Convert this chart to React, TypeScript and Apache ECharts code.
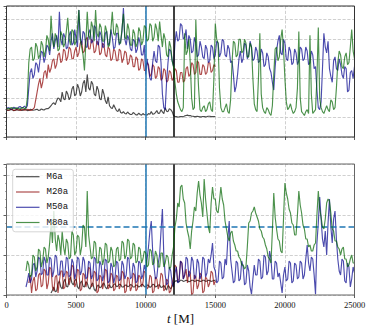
import React, { useEffect, useRef } from "react";
import * as echarts from "echarts";

// Sampling step of the time series (in M); every row of 10 values spans 1000 M.
const STEP = 100;
const X_MIN = 0;
const X_MAX = 25000;
const X_INTERVAL = 5000;

const seriesNames = ["M6a", "M20a", "M50a", "M80a"];
const seriesColors = ["#000000", "#8b0000", "#00008b", "#006400"];

// Reference lines
const vLineBlue = 10000;
const vLineBlack = 12000;
const hLineBottom = 1.7; // log10 value

// Axis ranges (log10 units)
const topYMax = 6.7;
const bottomYMax = 3.275;

// ---------- Top panel (log10 values), t = 0, 100, 200, ... ----------
const m6aTop = [
  1.38, 1.36, 1.37, 1.41, 1.4, 1.35, 1.36, 1.4, 1.38, 1.37,
  1.41, 1.36, 1.37, 1.42, 1.39, 1.35, 1.36, 1.41, 1.4, 1.37,
  1.38, 1.4, 1.42, 1.36, 1.37, 1.43, 1.4, 1.38, 1.43, 1.45,
  1.45, 1.52, 1.6, 1.7, 1.75, 1.65, 1.85, 2.0, 1.95, 1.8,
  2.3, 1.95, 1.9, 2.35, 2.2, 1.9, 2.05, 2.45, 2.6, 2.1,
  2.2, 2.7, 2.5, 2.1, 2.3, 2.75, 2.9, 2.3, 3.2, 2.5,
  2.4, 2.85, 2.7, 2.2, 2.1, 2.6, 2.4, 1.95, 1.9, 2.45,
  2.2, 1.85, 1.7, 2.05, 1.6, 1.5, 1.45, 1.65, 1.5, 1.35,
  1.3, 1.45, 1.25, 1.22, 1.3, 1.2, 1.18, 1.28, 1.2, 1.15,
  1.15, 1.25, 1.2, 1.13, 1.13, 1.22, 1.15, 1.12, 1.2, 1.14,
  1.14, 1.12, 1.2, 1.16, 1.3, 1.17, 1.18, 1.25, 1.35, 1.2,
  1.22, 1.4, 1.28, 1.2, 1.5, 1.32, 1.3, 1.45, 1.4, 1.3,
  1.1, 1.05, 1.04, 1.02, 1.03, 1.05, 1.05, 1.03, 1.08, 1.1,
  1.12, 1.09, 1.1, 1.06, 1.06, 1.04, 1.04, 1.06, 1.05, 1.03,
  1.03, 1.05, 1.05, 1.03, 1.04, 1.06, 1.06, 1.04, 1.04, 1.05,
  1.05,
];

const m20aTop = [
  1.4, 1.37, 1.38, 1.41, 1.42, 1.36, 1.37, 1.4, 1.4, 1.38,
  1.36, 1.4, 1.41, 1.37, 1.38, 1.41, 1.4, 1.36, 1.37, 1.42,
  1.5, 1.9, 2.3, 2.7, 3.0, 2.5, 2.8, 3.3, 3.4, 3.0,
  3.7, 3.3, 3.5, 3.9, 4.0, 3.5, 3.7, 4.2, 4.3, 3.8,
  3.9, 4.5, 4.4, 3.9, 4.1, 4.6, 4.5, 4.0, 4.0, 4.4,
  4.6, 4.1, 4.3, 4.8, 4.9, 4.3, 4.4, 5.0, 5.1, 4.5,
  4.5, 5.0, 4.9, 4.3, 4.4, 4.9, 4.8, 4.2, 4.3, 4.8,
  4.7, 4.2, 4.1, 4.6, 4.5, 3.9, 4.0, 4.5, 4.4, 3.9,
  3.9, 4.5, 4.4, 3.8, 4.0, 4.4, 4.3, 3.7, 3.8, 4.2,
  4.1, 3.6, 3.6, 4.1, 4.0, 3.4, 3.5, 4.0, 3.9, 3.4,
  3.4, 3.8, 3.7, 3.1, 3.2, 3.7, 3.6, 3.0, 3.1, 3.6,
  3.5, 2.9, 3.0, 3.5, 3.4, 2.8, 2.9, 3.4, 3.3, 2.9,
  3.0, 3.5, 3.4, 2.8, 2.8, 3.3, 3.3, 2.8, 2.9, 3.5,
  3.6, 3.1, 3.2, 3.8, 3.7, 3.2, 3.3, 3.9, 3.8, 3.2,
  3.2, 3.7, 3.6, 3.2, 3.3, 3.8, 3.8, 3.3, 3.4, 3.7,
  3.6,
];

const m50aTop = [
  1.45, 1.5, 1.48, 1.43, 1.44, 1.52, 1.5, 1.45, 1.46, 1.54,
  1.55, 1.48, 1.52, 1.58, 1.47, 1.6, 2.5, 3.3, 3.5, 3.0,
  3.2, 3.8, 3.7, 3.3, 3.9, 4.4, 4.3, 3.8, 4.1, 4.7,
  4.6, 4.2, 4.9, 5.3, 4.5, 4.9, 5.2, 4.6, 6.4, 5.0,
  4.7, 5.3, 5.1, 4.5, 4.6, 5.2, 5.4, 4.7, 4.8, 5.5,
  5.0, 4.6, 6.5, 5.1, 4.7, 5.4, 5.3, 4.6, 4.6, 5.3,
  5.5, 4.8, 4.9, 5.7, 5.6, 4.8, 4.7, 5.4, 5.2, 4.6,
  4.6, 5.3, 5.4, 4.7, 4.8, 5.5, 5.1, 4.5, 4.6, 5.3,
  5.3, 4.7, 4.9, 5.4, 6.6, 5.0, 4.7, 5.2, 5.0, 4.5,
  4.4, 5.0, 4.9, 4.3, 4.5, 5.1, 4.8, 4.2, 4.2, 4.7,
  3.2, 4.0, 3.5, 3.0, 2.9, 3.8, 4.4, 3.9, 3.8, 4.7,
  4.6, 3.8, 2.2, 1.5, 1.4, 2.8, 3.8, 4.5, 4.4, 3.9,
  3.6, 4.8, 5.4, 4.9, 5.0, 5.8, 5.7, 5.0, 5.1, 5.5,
  4.5, 5.2, 5.0, 4.3, 4.4, 5.1, 4.8, 4.1, 4.2, 4.9,
  4.6, 4.1, 4.0, 4.7, 4.5, 3.8, 3.9, 4.7, 4.6, 4.0,
  4.2, 4.9, 4.8, 4.1, 4.3, 5.0, 4.9, 4.2, 4.1, 4.7,
  4.5, 3.8, 3.9, 3.2, 2.3, 2.6, 3.2, 4.0, 4.4, 3.8,
  4.0, 4.8, 4.7, 4.0, 4.2, 4.9, 4.6, 3.9, 4.0, 4.6,
  4.4, 3.8, 3.9, 4.5, 4.3, 3.6, 3.7, 4.3, 4.1, 3.5,
  3.3, 2.8, 2.4, 3.6, 4.4, 4.9, 5.2, 4.3, 4.2, 5.0,
  4.8, 4.0, 3.9, 4.6, 4.4, 3.7, 3.8, 4.5, 4.3, 3.7,
  3.9, 4.6, 4.5, 3.9, 4.0, 4.6, 4.4, 3.7, 3.8, 4.4,
  4.2, 3.5, 3.6, 2.4, 1.5, 1.4, 1.8, 3.5, 5.3, 4.6,
  4.3, 4.9, 3.5, 3.1, 2.8, 3.9, 4.1, 3.5, 3.4, 4.0,
  3.7, 3.2, 3.0, 3.6, 3.5, 2.3, 2.4, 3.3, 3.4, 3.0,
  3.6,
];

const m80aTop = [
  1.47, 1.44, 1.45, 1.49, 1.5, 1.45, 1.46, 1.49, 1.48, 1.44,
  1.44, 1.49, 1.5, 1.45, 1.47, 2.0, 3.8, 4.5, 4.6, 3.9,
  4.0, 4.8, 4.6, 4.0, 4.2, 4.9, 4.7, 4.1, 4.4, 5.2,
  5.0, 4.4, 6.2, 5.0, 4.6, 5.3, 5.1, 4.4, 4.5, 5.4,
  5.2, 4.6, 4.8, 5.4, 6.1, 5.0, 4.7, 5.5, 5.4, 4.7,
  4.9, 5.6, 6.5, 5.0, 4.6, 4.2, 3.4, 4.8, 6.4, 5.2,
  5.0, 5.9, 5.6, 4.9, 6.5, 5.3, 5.1, 5.8, 5.6, 4.9,
  4.9, 5.7, 5.4, 4.6, 4.7, 5.5, 6.4, 5.3, 5.2, 5.8,
  5.6, 4.8, 4.8, 5.6, 6.3, 5.1, 5.0, 5.8, 5.5, 4.7,
  4.7, 5.5, 5.3, 4.6, 4.8, 5.6, 5.4, 4.7, 4.9, 5.7,
  5.6, 4.9, 5.0, 5.8, 5.7, 4.9, 5.1, 5.8, 5.5, 4.9,
  5.9, 5.2, 4.6, 5.3, 5.0, 4.2, 4.1, 4.9, 4.6, 3.9,
  3.6, 2.8, 2.2, 1.8, 1.6, 1.4, 1.3, 1.5, 5.3, 4.2,
  4.4, 5.0, 3.8, 2.0, 1.4, 1.5, 6.0, 4.0, 2.5, 1.4,
  1.3, 1.5, 1.6, 1.3, 1.4, 1.7, 1.8, 1.4, 1.3, 3.0,
  5.8, 5.0, 4.8, 2.5, 1.5, 1.3, 1.3, 1.5, 1.7, 1.3,
  1.2, 1.9, 3.8, 4.9, 4.8, 4.1, 4.2, 5.0, 5.0, 4.3,
  4.4, 5.0, 4.8, 4.1, 4.1, 4.8, 4.6, 3.0, 1.7, 1.4,
  1.3, 3.0, 5.3, 2.2, 1.5, 1.3, 1.2, 1.5, 1.4, 1.2,
  1.1, 1.6, 3.2, 4.5, 4.6, 3.9, 4.1, 5.0, 5.5, 4.5,
  3.0, 1.8, 1.4, 1.5, 1.7, 1.4, 1.2, 1.3, 1.5, 2.5,
  5.4, 2.0, 1.3, 1.2, 1.1, 1.3, 1.4, 1.2, 5.2, 2.2,
  1.2, 1.3, 1.4, 3.0, 5.6, 2.0, 1.5, 1.3, 1.2, 1.4,
  1.6, 1.4, 1.3, 1.9, 1.8, 1.4, 1.5, 2.5, 3.8, 4.4,
  4.2, 3.6, 3.5, 4.1, 4.3, 3.7, 3.8, 4.6, 5.5, 4.4,
  4.0,
];

// ---------- Bottom panel (log10 values), t = 0, 100, 200, ... ----------
const m6aBottom = [
  null, null, null, null, null, null, null, null, null, null,
  null, null, null, null, null, null, null, null, null, null,
  null, null, null, null, null, null, null, null, null, null,
  null, null, 0.05, 0.12, 0.2, 0.08, 0.1, 0.28, 0.35, 0.2,
  0.15, 0.32, 0.4, 0.22, 0.2, 0.38, 0.45, 0.3, 0.25, 0.36,
  0.4, 0.2, 0.15, 0.3, 0.35, 0.22, 0.2, 0.33, 0.3, 0.18,
  0.15, 0.26, 0.3, 0.14, 0.1, 0.22, 0.25, 0.18, 0.2, 0.27,
  0.3, 0.2, 0.15, 0.24, 0.25, 0.18, 0.2, 0.26, 0.28, 0.21,
  0.22, 0.27, 0.26, 0.2, 0.2, 0.24, 0.25, 0.21, 0.22, 0.26,
  0.25, 0.2, 0.2, 0.25, 0.24, 0.2, 0.22, 0.26, 0.26, 0.21,
  0.2, 0.25, 0.24, 0.19, 0.21, 0.27, 0.26, 0.2, 0.22, 0.25,
  0.25, 0.19, 0.2, 0.24, 0.18, 0.12, 0.24, 0.2, 0.15, 0.22,
  0.3, 0.34, 0.36, 0.33, 0.33, 0.37, 0.37, 0.34, 0.35, 0.37,
  0.36, 0.33, 0.34, 0.37, 0.37, 0.34, 0.35, 0.37, 0.36, 0.34,
  0.34, 0.37, 0.37, 0.34, 0.35, 0.37, 0.36, 0.34, 0.35, 0.37,
  0.36,
];

const m20aBottom = [
  null, null, null, null, null, null, null, null, null, null,
  null, null, null, null, null, null, 0.3, 0.5, 0.05, 0.35,
  0.45, 0.1, 0.15, 0.5, 0.55, 0.2, 0.25, 0.65, 0.6, 0.15,
  0.3, 0.7, 0.65, 0.2, 0.1, 0.45, 0.5, 0.05, 0.35, 0.6,
  0.6, 0.15, 0.2, 0.6, 0.55, 0.25, 0.4, 0.75, 0.7, 0.2,
  0.3, 0.65, 0.6, 0.1, 0.15, 0.55, 0.5, 0.2, 0.35, 0.7,
  0.65, 0.2, 0.25, 0.6, 0.55, 0.05, 0.1, 0.5, 0.45, 0.15,
  0.3, 0.65, 0.6, 0.15, 0.2, 0.55, 0.5, 0.1, 0.15, 0.5,
  0.45, 0.15, 0.25, 0.6, 0.55, 0.05, 0.1, 0.45, 0.4, 0.1,
  0.2, 0.55, 0.5, 0.1, 0.15, 0.5, 0.45, 0.2, 0.3, 0.6,
  0.55, 0.15, 0.2, 0.5, 0.45, 0.05, 0.1, 0.45, 0.4, 0.15,
  0.25, 0.55, 0.5, 0.1, 0.15, 0.4, 0.35, 0.05, 0.1, 0.3,
  0.45, 0.75, 0.7, 0.35, 0.4, 0.85, 0.8, 0.4, 0.5, 0.65,
  0.3, 0.6, 0.55, 0.0, 0.05, 0.5, 0.45, 0.15, 0.25, 0.55,
  0.5, 0.05, 0.1, 0.45, 0.4, 0.2, 0.3, 0.6, 0.55, 0.25,
  0.35,
];

const m50aBottom = [
  null, null, null, null, null, null, null, null, null, null,
  null, null, null, null, 0.2, 0.35, 0.55, 0.3, 0.4, 0.75,
  0.8, 0.45, 0.6, 0.95, 0.9, 0.5, 0.55, 0.95, 0.85, 0.5,
  0.5, 0.95, 0.9, 0.45, 0.6, 1.0, 0.95, 0.5, 0.5, 0.85,
  0.85, 0.45, 0.55, 0.95, 0.9, 0.45, 0.5, 0.9, 0.8, 0.4,
  0.55, 0.95, 0.9, 0.5, 0.6, 0.95, 0.85, 0.4, 0.45, 0.85,
  0.8, 0.4, 0.5, 0.95, 0.9, 0.35, 0.4, 0.85, 0.75, 0.35,
  0.5, 0.9, 0.85, 0.3, 0.35, 0.8, 0.7, 0.3, 0.45, 0.85,
  0.8, 0.35, 0.4, 0.85, 0.75, 0.4, 0.5, 0.95, 0.9, 0.4,
  0.45, 0.8, 0.7, 0.3, 0.35, 0.85, 0.8, 0.4, 0.5, 0.75,
  0.6, 0.9, 1.2, 1.6, 1.85, 1.1, 0.7, 0.4, 0.45, 0.8,
  1.0, 1.6, 2.15, 1.0, 0.5, 0.25, 0.3, 0.7, 0.6, 0.3,
  0.2, 0.55, 0.7, 0.3, 0.35, 0.85, 0.8, 0.4, 0.5, 0.95,
  0.9, 0.45, 0.55, 0.95, 0.85, 0.4, 0.45, 0.9, 0.8, 0.4,
  0.5, 0.95, 0.9, 0.45, 0.55, 0.9, 0.8, 1.0, 1.3, 0.7,
  0.6, 0.3, 0.35, 0.85, 0.8, 0.4, 0.45, 0.9, 0.75, 1.4,
  1.85, 0.9, 0.6, 0.3, 0.35, 0.85, 0.8, 0.35, 0.4, 0.85,
  0.7, 0.25, 0.3, 0.75, 0.6, 0.2, 0.02, 0.4, 0.75, 0.5,
  0.5, 0.9, 0.85, 0.4, 0.45, 1.0, 0.95, 0.5, 0.6, 1.1,
  0.9, 0.4, 0.4, 0.85, 0.8, 0.45, 0.55, 0.3, 0.05, 0.5,
  0.7, 0.35, 0.4, 0.85, 0.8, 0.3, 0.35, 0.8, 0.75, 0.4,
  0.45, 0.85, 0.8, 0.4, 0.5, 0.9, 1.25, 0.8, 0.6, 0.95,
  0.9, 0.5, 0.02, 1.3, 1.8, 2.45, 1.9, 1.4, 1.2, 1.6,
  1.0, 1.8, 2.4, 1.7, 1.3, 1.9, 2.1, 1.4, 0.9, 0.6,
  0.5, 0.9, 0.85, 0.35, 0.3, 0.8, 0.7, 0.2, 0.4, 0.7,
  0.55,
];

const m80aBottom = [
  null, null, null, null, null, null, null, null, null, null,
  null, null, null, null, 0.6, 0.85, 0.75, 0.45, 0.5, 1.0,
  0.95, 0.6, 0.7, 1.15, 1.1, 0.7, 0.85, 1.2, 1.15, 0.8,
  0.95, 1.3, 1.8, 1.3, 2.1, 1.4, 1.1, 1.5, 1.35, 1.0,
  1.6, 1.2, 1.0, 1.4, 1.3, 0.9, 0.95, 1.6, 1.5, 1.0,
  1.1, 1.5, 1.45, 1.0, 1.2, 1.75, 1.7, 1.2, 2.6, 1.5,
  1.2, 0.9, 0.95, 1.35, 1.3, 0.8, 0.8, 1.2, 1.15, 0.75,
  0.9, 1.3, 1.25, 0.8, 0.85, 1.2, 1.1, 0.7, 0.75, 1.15,
  1.2, 0.85, 0.9, 1.35, 1.3, 0.9, 1.0, 1.4, 1.35, 0.9,
  0.95, 1.3, 1.25, 0.8, 0.85, 1.2, 1.15, 0.8, 0.9, 1.1,
  1.05, 0.7, 0.75, 1.15, 1.1, 0.75, 0.8, 1.1, 1.0, 0.7,
  0.7, 1.05, 1.05, 0.7, 0.8, 1.0, 0.95, 0.65, 0.7, 1.0,
  1.2, 1.7, 1.9, 2.3, 2.2, 2.7, 2.75, 2.4, 2.3, 1.8,
  1.6, 1.45, 1.15, 1.6, 1.85, 2.2, 2.1, 2.55, 2.85, 2.5,
  2.3, 1.95, 2.9, 2.4, 2.05, 1.7, 1.55, 2.3, 2.7, 2.4,
  2.4, 2.1, 2.05, 2.35, 2.7, 2.4, 2.25, 1.85, 1.65, 1.45,
  1.35, 1.55, 1.6, 1.35, 1.25, 1.1, 1.1, 0.95, 0.9, 0.75,
  0.75, 0.65, 0.7, 1.2, 1.8, 1.85, 2.05, 2.1, 2.2, 2.05,
  1.95, 1.85, 1.65, 1.6, 1.45, 1.4, 1.25, 1.15, 0.95, 0.9,
  0.8, 1.6, 2.55, 1.95, 1.65, 1.4, 1.35, 1.1, 1.05, 1.9,
  2.8, 2.55, 2.4, 2.15, 2.05, 1.8, 1.75, 1.5, 1.5, 2.0,
  2.6, 2.25, 2.05, 1.75, 1.65, 1.4, 1.4, 1.2, 1.25, 1.1,
  1.1, 1.25, 1.3, 2.0, 2.6, 2.15, 1.95, 1.7, 1.65, 1.9,
  2.3, 2.4, 2.35, 2.05, 1.65, 1.6, 1.35, 1.35, 1.2, 1.15,
  1.0, 1.15, 1.2, 0.9, 0.9, 0.7, 0.75, 0.9, 1.0, 0.8,
  0.8,
];

const topData = [m6aTop, m20aTop, m50aTop, m80aTop];
const bottomData = [m6aBottom, m20aBottom, m50aBottom, m80aBottom];

const toPairs = (arr: (number | null)[]) => arr.map((v, i) => [i * STEP, v]);

// Layout
const GL = 6.5;
const GW = 348;
const TOP_T = 6;
const TOP_H = 131;
const BOT_T = 164;
const BOT_H = 131;

const SERIF = "'Liberation Serif', 'DejaVu Serif', serif";
const MONO = "'Liberation Mono', 'DejaVu Sans Mono', monospace";
const LINE_W = 1.15;

function buildOption(): any {
  const gridLine = { type: "dashed", color: "#c4c4c4", width: 0.8 };
  const xAxisBase = (gridIndex: number, showLabels: boolean) => ({
    type: "value",
    gridIndex,
    min: X_MIN,
    max: X_MAX,
    interval: X_INTERVAL,
    axisLine: { show: false },
    axisTick: { show: true, length: 3, lineStyle: { color: "#333", width: 0.8 } },
    axisLabel: {
      show: showLabels,
      margin: 5,
      fontFamily: SERIF,
      fontSize: 8.5,
      color: "#111",
      formatter: (v: number) => String(v),
    },
    splitLine: { show: true, lineStyle: gridLine },
  });
  const yAxisBase = (gridIndex: number, max: number) => ({
    type: "value",
    gridIndex,
    min: 0,
    max,
    interval: 1,
    axisLine: { show: false },
    axisTick: { show: true, length: 3, lineStyle: { color: "#333", width: 0.8 } },
    minorTick: { show: true, splitNumber: 5, length: 1.5, lineStyle: { color: "#555", width: 0.5 } },
    axisLabel: { show: false },
    splitLine: { show: true, lineStyle: gridLine },
  });

  const series: any[] = [];
  seriesNames.forEach((name, k) => {
    series.push({
      name,
      type: "line",
      xAxisIndex: 0,
      yAxisIndex: 0,
      data: toPairs(topData[k]),
      showSymbol: false,
      symbol: "none",
      lineStyle: { color: seriesColors[k], width: LINE_W, opacity: 0.7 },
      itemStyle: { color: seriesColors[k] },
      z: 2 + k,
    });
  });
  seriesNames.forEach((name, k) => {
    series.push({
      name,
      type: "line",
      xAxisIndex: 1,
      yAxisIndex: 1,
      data: toPairs(bottomData[k]),
      showSymbol: false,
      symbol: "none",
      connectNulls: false,
      lineStyle: { color: seriesColors[k], width: LINE_W, opacity: 0.7 },
      itemStyle: { color: seriesColors[k] },
      z: 2 + k,
    });
  });

  const vLines = [
    { xAxis: vLineBlue, lineStyle: { color: "#1f77b4", width: 1.5, type: "solid" } },
    { xAxis: vLineBlack, lineStyle: { color: "#000000", width: 1.5, type: "solid" } },
  ];
  series.push({
    name: "refTop",
    type: "line",
    xAxisIndex: 0,
    yAxisIndex: 0,
    data: [],
    z: 20,
    markLine: { silent: true, symbol: "none", label: { show: false }, animation: false, data: vLines },
  });
  series.push({
    name: "refBottom",
    type: "line",
    xAxisIndex: 1,
    yAxisIndex: 1,
    data: [],
    z: 20,
    markLine: {
      silent: true,
      symbol: "none",
      label: { show: false },
      animation: false,
      data: [
        ...vLines,
        { yAxis: hLineBottom, lineStyle: { color: "#1f77b4", width: 1.5, type: [6, 3] } },
      ],
    },
  });

  const rowsY = [176.7, 192, 207.3, 222.5];
  const legendChildren: any[] = [
    {
      type: "rect",
      shape: { x: 12.7, y: 169.3, width: 60.6, height: 62.5, r: 2.5 },
      style: { fill: "rgba(255,255,255,0.8)", stroke: "#cccccc", lineWidth: 0.8 },
      z: 100,
    },
  ];
  seriesNames.forEach((name, k) => {
    legendChildren.push({
      type: "line",
      shape: { x1: 16, y1: rowsY[k], x2: 39.5, y2: rowsY[k] },
      style: { stroke: seriesColors[k], lineWidth: 1.2, opacity: 0.7 },
      z: 101,
    });
    legendChildren.push({
      type: "text",
      x: 46.5,
      y: rowsY[k],
      style: {
        text: name,
        fill: "#111",
        font: `9px ${MONO}`,
        textVerticalAlign: "middle",
        verticalAlign: "middle",
      },
      z: 101,
    });
  });

  return {
    animation: false,
    backgroundColor: "#ffffff",
    grid: [
      { left: GL, top: TOP_T, width: GW, height: TOP_H, containLabel: false },
      { left: GL, top: BOT_T, width: GW, height: BOT_H, containLabel: false },
    ],
    xAxis: [
      xAxisBase(0, false),
      {
        ...xAxisBase(1, true),
        name: "{it|t} [M]",
        nameLocation: "middle",
        nameGap: 17,
        nameTextStyle: {
          fontFamily: SERIF,
          fontSize: 13,
          color: "#111",
          rich: { it: { fontFamily: SERIF, fontSize: 13, fontStyle: "italic", color: "#111" } },
        },
      },
    ],
    yAxis: [yAxisBase(0, topYMax), yAxisBase(1, bottomYMax)],
    series,
    graphic: [
      {
        type: "rect",
        shape: { x: GL, y: TOP_T, width: GW, height: TOP_H },
        style: { fill: "none", stroke: "#333", lineWidth: 1 },
        z: 90,
        silent: true,
      },
      {
        type: "rect",
        shape: { x: GL, y: BOT_T, width: GW, height: BOT_H },
        style: { fill: "none", stroke: "#666", lineWidth: 1 },
        z: 90,
        silent: true,
      },
      { type: "group", children: legendChildren, z: 100 },
    ],
  };
}

export default function App() {
  const ref = useRef<HTMLDivElement>(null);
  useEffect(() => {
    if (!ref.current) return;
    const chart = echarts.init(ref.current, undefined, { renderer: "svg" });
    chart.setOption(buildOption());
    return () => chart.dispose();
  }, []);
  return (
    <div
      ref={ref}
      style={{ position: "fixed", left: 0, top: 0, width: 372, height: 333, background: "#fff" }}
    />
  );
}
